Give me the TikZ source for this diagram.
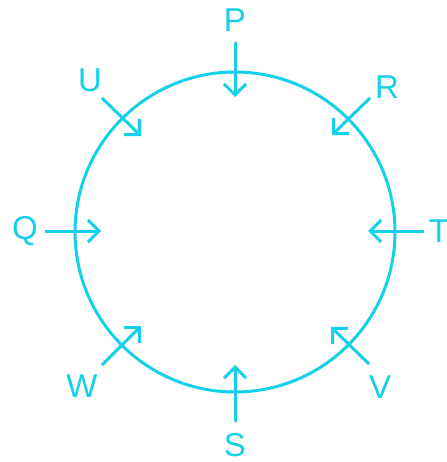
\documentclass[tikz,border=0pt]{standalone}
\usepackage{fontspec}
\setmainfont{Liberation Sans}
\usetikzlibrary{arrows.meta}
\definecolor{cy}{RGB}{20,208,232}
\begin{document}
\begin{tikzpicture}[x=1pt,y=-1pt,
  lab/.style={text=cy,font=\fontsize{33}{33}\selectfont,inner sep=0pt,anchor=center},
  arr/.style={draw=cy,line width=3pt,-{Straight Barb[length=11pt,width=22pt,line width=3pt]}},
  ring/.style={draw=cy,line width=3pt}]
\useasboundingbox (0,0) rectangle (446,462);
\fill[white] (0,0) rectangle (446,462);
\node[ring,circle,minimum size=320pt,inner sep=0pt] (C) at (235,232) {};
% letters
\node[lab] (P) at (235,20) {P};
\node[lab] (R) at (387,87) {R};
\node[lab] (Q) at (25,231) {Q};
\node[lab] (T) at (439,231) {T};
\node[lab] (U) at (90,80) {U};
\node[lab] (W) at (82,386) {W};
\node[lab] (V) at (380,387) {V};
\node[lab] (S) at (235,445) {S};
% arrow ends
\coordinate (Ps) at (235,42); \coordinate (Pt) at (235,97);
\coordinate (Rs) at (370,98); \coordinate (Rt) at (332,135);
\coordinate (Qs) at (45,231); \coordinate (Qt) at (101,231);
\coordinate (Ts) at (424,231); \coordinate (Tt) at (368,231);
\coordinate (Us) at (102,98); \coordinate (Ut) at (141,136);
\coordinate (Ws) at (102,365); \coordinate (Wt) at (141,326);
\coordinate (Vs) at (369,364); \coordinate (Vt) at (331,327);
\coordinate (Ss) at (235,422); \coordinate (St) at (235,365);
\foreach \n in {P,R,Q,T,U,W,V,S}{\draw[arr] (\n s) -- (\n t);}
\end{tikzpicture}
\end{document}
